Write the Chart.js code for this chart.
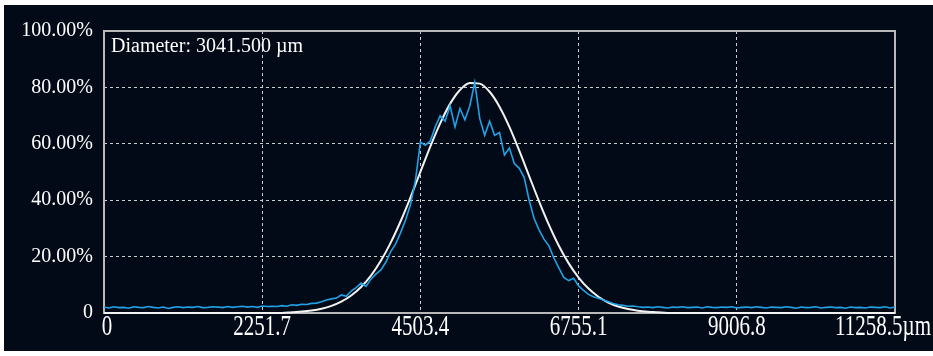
<!DOCTYPE html>
<html>
<head>
<meta charset="utf-8">
<script src="https://cdn.jsdelivr.net/npm/chart.js@4/dist/chart.umd.min.js"></script>
<style>
  html, body { margin: 0; padding: 0; background: #fff; }
  #wrap { position: absolute; left: 0; top: 0; width: 933px; height: 356px; }
</style>
</head>
<body>
<div id="wrap"><canvas id="beam" width="933" height="356"></canvas></div>
<script>
// axis set-up
const X_MAX = 11258.5;
const xTicks = [0, 2251.7, 4503.4, 6755.1, 9006.8, 11258.5];
const xTickLabels = ['0', '2251.7', '4503.4', '6755.1', '9006.8', '11258.5µm'];
const yTicks = [0, 20, 40, 60, 80, 100];
const yTickLabels = ['0', '20.00%', '40.00%', '60.00%', '80.00%', '100.00%'];
const diameterText = 'Diameter: 3041.500 µm';

// measured profile, one sample every 11258.5 / 160 µm
const profileStep = 11258.5 / 160;
const profileValues = [
  2.1, 1.8, 2.2, 1.9, 2.0, 1.7, 2.2, 2.0, 1.9, 2.3,
  2.0, 1.8, 2.1, 1.6, 2.0, 2.2, 1.9, 2.1, 2.0, 2.3,
  1.9, 2.0, 2.2, 2.1, 1.9, 2.3, 2.0, 2.2, 2.4, 2.1,
  2.3, 2.0, 2.5, 2.3,
  2.4, 2.3, 2.6, 2.4, 2.9, 2.7, 3.1, 3.0, 3.4, 3.5,
  4.0, 4.6, 5.0, 5.3, 6.4, 5.9, 7.8, 9.0, 10.6, 9.4,
  12.0, 13.8, 15.3, 18.0, 21.8, 24.5, 28.5, 33.0, 38.5, 47.0,
  60.6, 59.5, 61.0, 66.0, 70.0, 68.0, 73.5, 66.0, 72.5, 68.5,
  73.5, 81.8, 69.0, 63.0, 68.0, 63.0, 64.0, 56.0, 58.5, 53.0,
  51.3, 48.0, 40.0, 33.5, 29.5, 26.2, 23.8, 19.5, 16.0, 12.6,
  11.5, 12.3, 9.6, 8.0, 6.6, 5.8, 5.2, 4.6, 4.0, 3.4,
  2.9, 2.7, 2.4, 2.5,
  2.2, 2.0, 2.1, 1.9, 2.2, 2.0, 1.8, 2.1, 2.0, 2.2,
  1.9, 2.0, 2.1, 1.8, 2.2, 2.0, 1.9, 2.1, 2.0, 2.2,
  1.8, 2.0, 2.1, 1.9, 2.2, 2.0, 1.8, 2.1, 2.0, 1.9,
  2.2, 2.0, 1.7, 2.1, 1.9, 2.0, 2.2, 1.8, 2.0, 2.1,
  1.9, 2.0, 1.7, 2.1, 1.9, 2.0, 1.8, 2.1, 2.0, 1.9,
  2.2, 1.8, 2.1
];

// gaussian fit, one sample every 11258.5 / 80 µm
const fitStep = 11258.5 / 80;
const fitValues = [
  0, 0, 0, 0, 0, 0, 0, 0, 0, 0,
  0, 0, 0, 0, 0, 0, 0, 0, 0,
  0.28, 0.51, 0.90, 1.53, 2.51, 4.01, 6.19, 9.21, 13.28, 18.51,
  24.96, 32.53, 41.03, 50.01, 58.99, 67.24, 74.16, 79.08, 81.56, 81.34,
  78.45, 73.17, 66.00, 57.56, 48.56, 39.61, 31.25, 23.84, 17.59, 12.55,
  8.66, 5.78, 3.73, 2.32, 1.40, 0.82, 0.46, 0.25,
  0, 0, 0, 0, 0, 0, 0, 0, 0, 0, 0, 0,
  0, 0, 0, 0, 0, 0, 0, 0, 0, 0, 0, 0
];

const profilePoints = profileValues.map((v, i) => ({ x: i * profileStep, y: v }));
const fitPoints = fitValues.map((v, i) => ({ x: i * fitStep, y: v }));

const GRID = '#cfcfcf';
const edgeless = max => c => (c.tick && (c.tick.value === 0 || c.tick.value === max)) ? 'rgba(0,0,0,0)' : GRID;

// dark panel behind everything
const panel = {
  id: 'panel',
  beforeDraw(chart) {
    const ctx = chart.ctx;
    ctx.save();
    ctx.fillStyle = '#020a17';
    ctx.fillRect(4, 5, 929, 346);
    ctx.restore();
  },
  beforeDatasetsDraw(chart) {
    const { ctx, chartArea: a } = chart;
    ctx.save();
    ctx.strokeStyle = '#b9b9b9';
    ctx.lineWidth = 2;
    ctx.strokeRect(a.left, a.top, a.right - a.left, a.bottom - a.top);
    ctx.restore();
  },
  afterDraw(chart) {
    const ctx = chart.ctx;
    const xs = chart.scales.x;
    ctx.save();
    ctx.fillStyle = '#ffffff';
    ctx.textBaseline = 'middle';
    // x labels are drawn a little taller than wide
    ctx.font = '21px "Liberation Serif"';
    ctx.textAlign = 'center';
    xs.ticks.forEach((t, i) => {
      const label = xTickLabels[i];
      const w = ctx.measureText(label).width;
      let px = xs.getPixelForValue(t.value);
      if (px + w / 2 > 931) px = 931 - w / 2;
      if (i === 0) px += 3;
      ctx.save();
      ctx.translate(px, 327);
      ctx.scale(1, 1.4);
      ctx.fillText(label, 0, 0);
      ctx.restore();
    });
    ctx.font = '20px "Liberation Serif"';
    ctx.textAlign = 'left';
    ctx.fillText(diameterText, 111, 47);
    ctx.restore();
  }
};

new Chart(document.getElementById('beam'), {
  type: 'line',
  data: {
    datasets: [
      {
        data: profilePoints,
        borderColor: '#1fa2e6',
        borderWidth: 1.6,
        pointRadius: 0,
        tension: 0,
        clip: 4
      },
      {
        data: fitPoints,
        borderColor: '#f2f2f2',
        borderWidth: 2,
        pointRadius: 0,
        cubicInterpolationMode: 'monotone',
        clip: 4
      }
    ]
  },
  options: {
    responsive: false,
    animation: false,
    devicePixelRatio: 1,
    layout: { padding: { left: 0, top: 31, right: 38, bottom: 0 } },
    plugins: { legend: { display: false }, tooltip: { enabled: false } },
    scales: {
      x: {
        type: 'linear',
        min: 0,
        max: X_MAX,
        afterBuildTicks: s => { s.ticks = xTicks.map(v => ({ value: v })); },
        afterFit: s => { s.height = 43; },
        ticks: { display: false },
        grid: { color: edgeless(X_MAX), lineWidth: 1, drawTicks: false },
        border: { display: false, dash: [3, 3] }
      },
      y: {
        min: 0,
        max: 100,
        afterBuildTicks: s => { s.ticks = yTicks.map(v => ({ value: v })); },
        afterFit: s => { s.width = 104; },
        ticks: {
          color: '#ffffff',
          padding: 11,
          font: { family: '"Liberation Serif"', size: 20 },
          callback: v => yTickLabels[yTicks.indexOf(v)]
        },
        grid: { color: edgeless(100), lineWidth: 1, drawTicks: false },
        border: { display: false, dash: [3, 3] }
      }
    }
  },
  plugins: [panel]
});
</script>
</body>
</html>
